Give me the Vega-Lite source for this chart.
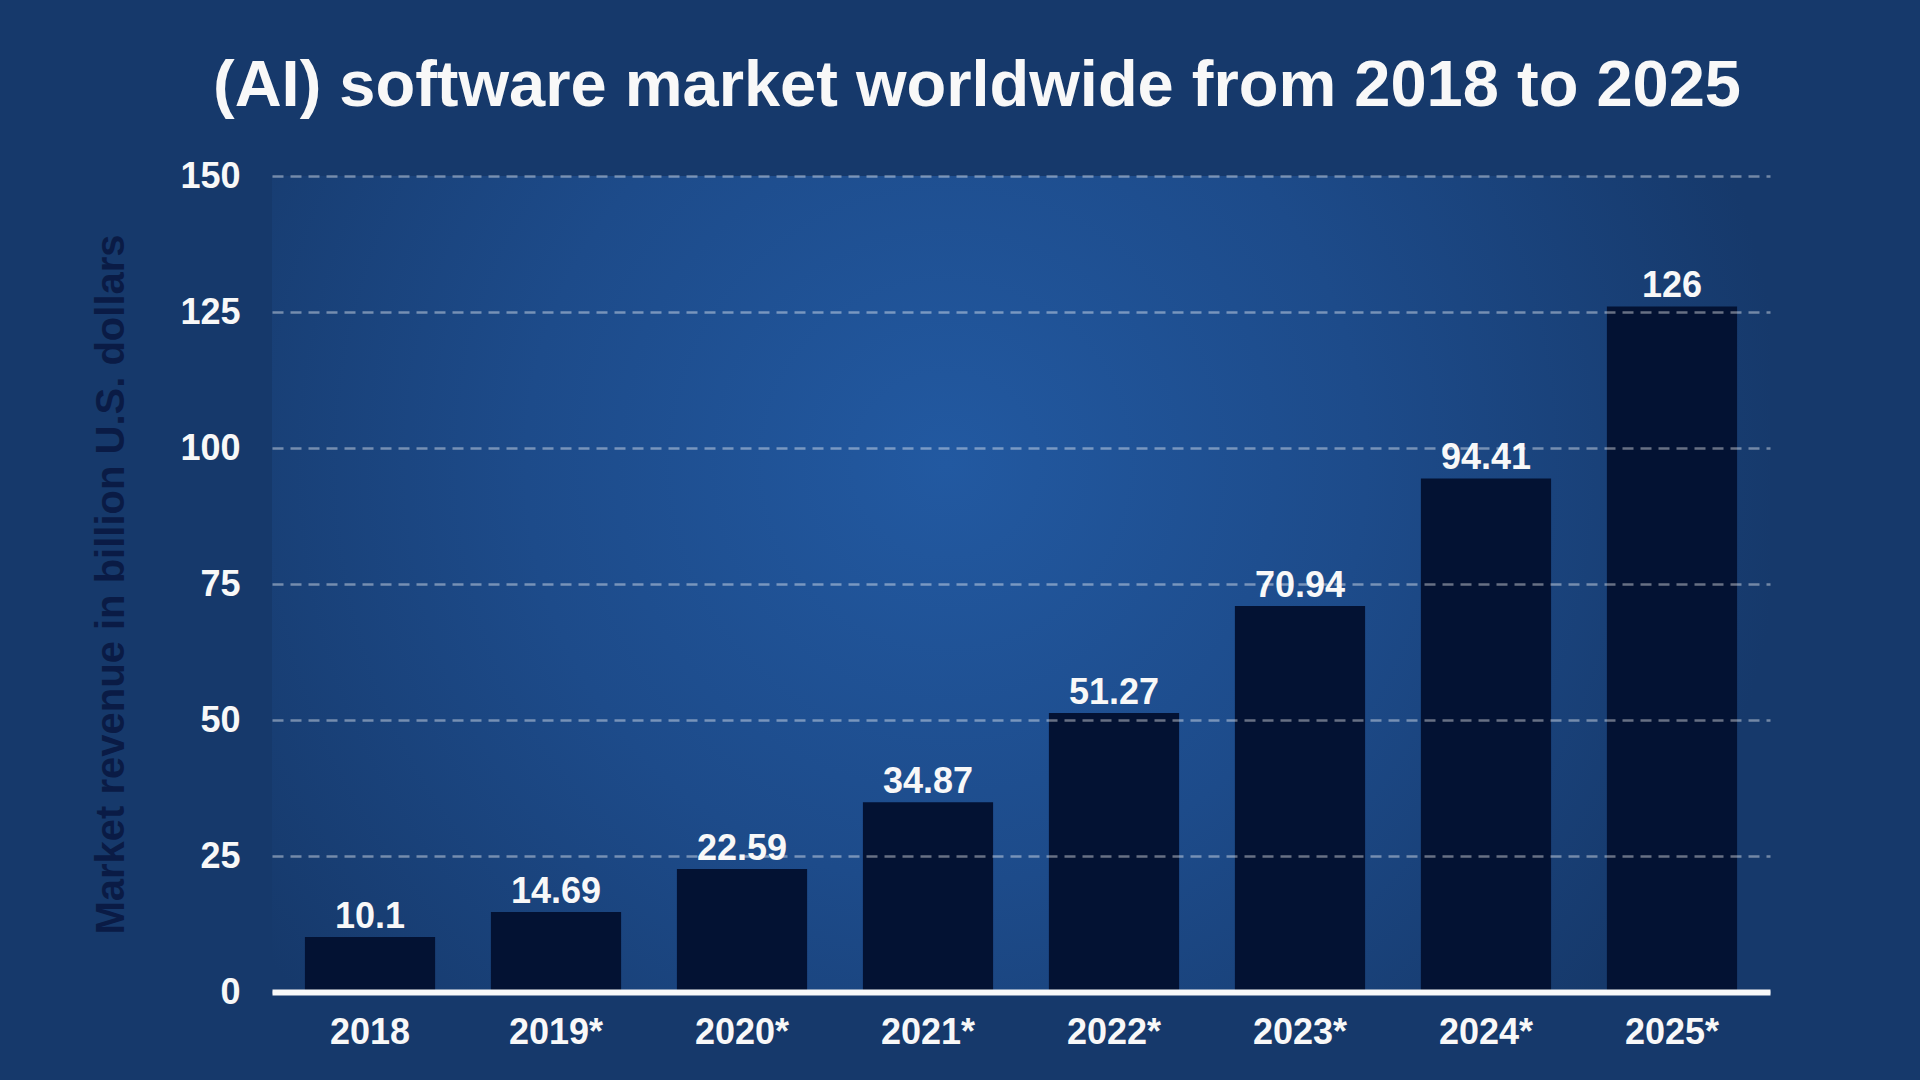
{
  "$schema": "https://vega.github.io/schema/vega-lite/v6.json",
  "autosize": {"type": "none"},
  "padding": {"left": 272, "top": 176, "right": 150, "bottom": 88},
  "width": 1498,
  "height": 816,
  "background": "#16396b",
  "view": {
    "stroke": null,
    "fill": {
      "gradient": "radial",
      "x1": 0.45, "y1": 0.42, "r1": 0,
      "x2": 0.45, "y2": 0.42, "r2": 0.56,
      "stops": [
        {"offset": 0, "color": "#2259a1"},
        {"offset": 0.5, "color": "#1d4b8a"},
        {"offset": 1, "color": "#16396b"}
      ]
    }
  },
  "title": {
    "text": "(AI) software market worldwide from 2018 to 2025",
    "font": "Liberation Sans",
    "fontSize": 65,
    "fontWeight": "bold",
    "color": "#f8f8f8",
    "anchor": "middle",
    "frame": "group",
    "baseline": "alphabetic",
    "offset": 0,
    "dy": 13,
    "dx": -44
  },
  "data": {
    "values": [
      {"year": "2018", "value": 10.1},
      {"year": "2019*", "value": 14.69},
      {"year": "2020*", "value": 22.59},
      {"year": "2021*", "value": 34.87},
      {"year": "2022*", "value": 51.27},
      {"year": "2023*", "value": 70.94},
      {"year": "2024*", "value": 94.41},
      {"year": "2025*", "value": 126}
    ]
  },
  "encoding": {
    "x": {
      "field": "year",
      "type": "nominal",
      "sort": null,
      "scale": {"paddingInner": 0.3, "paddingOuter": 0.177},
      "axis": {
        "title": null,
        "labelAngle": 0,
        "ticks": false,
        "tickSize": 0,
        "labelPadding": 23,
        "labelFont": "Liberation Sans",
        "labelFontSize": 36,
        "labelFontWeight": "bold",
        "labelColor": "#f8f8f8",
        "domain": true,
        "domainColor": "#f8f8f8",
        "domainWidth": 6,
        "grid": false,
        "zindex": 1
      }
    },
    "y": {
      "field": "value",
      "type": "quantitative",
      "scale": {"domain": [0, 150], "nice": false},
      "axis": {
        "title": "Market revenue in billion U.S. dollars",
        "titleFont": "Liberation Sans",
        "titleFontSize": 40,
        "titleFontWeight": "bold",
        "titleColor": "#0a1b45",
        "titlePadding": 48,
        "values": [0, 25, 50, 75, 100, 125, 150],
        "domain": false,
        "ticks": false,
        "tickSize": 0,
        "labelPadding": 32,
        "labelFont": "Liberation Sans",
        "labelFontSize": 36,
        "labelFontWeight": "bold",
        "labelColor": "#f8f8f8",
        "grid": true,
        "gridColor": "#ffffff",
        "gridOpacity": 0.4,
        "gridWidth": 2.5,
        "gridDash": [11, 7],
        "zindex": 1
      }
    }
  },
  "layer": [
    {
      "mark": {"type": "bar", "color": "#031233"}
    },
    {
      "mark": {
        "type": "text",
        "baseline": "alphabetic",
        "align": "center",
        "dy": -9.5,
        "font": "Liberation Sans",
        "fontSize": 36,
        "fontWeight": "bold",
        "color": "#f8f8f8"
      },
      "encoding": {
        "text": {"field": "value", "type": "nominal"}
      }
    }
  ]
}
